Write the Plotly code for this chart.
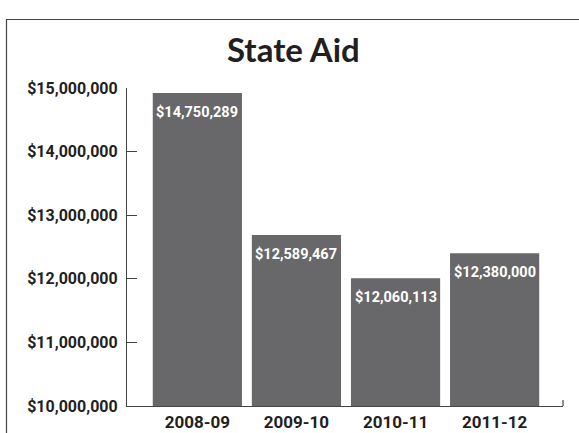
import plotly.graph_objects as go

seasons = ["2008-09", "2009-10", "2010-11", "2011-12"]
# bar heights as drawn in the reference
bar_heights = [14920000, 12690000, 12010000, 12400000]
# value labels printed on the bars
value_labels = ["$14,750,289", "$12,589,467", "$12,060,113", "$12,380,000"]
y_ticks = [10000000, 11000000, 12000000, 13000000, 14000000, 15000000]
y_tick_text = ["$10,000,000", "$11,000,000", "$12,000,000", "$13,000,000", "$14,000,000", "$15,000,000"]

COND = "Roboto, Liberation Sans, sans-serif"

W, H = 579, 433
L, R, T, B = 127, 16, 88, 27
pw, ph = W - L - R, H - T - B

def px(x):
    return (x - L) / pw

def py(y):
    return (H - B - y) / ph

fig = go.Figure()
fig.add_trace(go.Bar(
    x=list(range(len(seasons))), y=bar_heights,
    marker=dict(color="#686769", line=dict(width=0)),
    width=0.9, hoverinfo="skip",
))

annotations = []
for i, (h, lab) in enumerate(zip(bar_heights, value_labels)):
    annotations.append(dict(
        x=i, y=h, xref="x", yref="y", text=lab, showarrow=False,
        yanchor="top", xanchor="center", yshift=-9,
        font=dict(family=COND, size=14.5, color="white", weight="bold"),
    ))
annotations.append(dict(
    x=px(293), y=py(49), xref="paper", yref="paper", text="<b>State Aid</b>",
    showarrow=False, xanchor="center", yanchor="middle",
    font=dict(family="Lato, Open Sans, sans-serif", size=33, color="#231f20"),
))

shapes = [
    # outer frame (runs off the right and bottom edges)
    dict(type="rect", xref="paper", yref="paper", x0=px(6.5), x1=px(590),
         y0=py(450), y1=py(19.5), line=dict(color="#444", width=1.2)),
    # small end tick on x axis
    dict(type="line", xref="paper", yref="paper", x0=1, x1=1, y0=0, y1=py(400),
         line=dict(color="#444", width=1.2)),
]

fig.update_layout(
    width=W, height=H,
    margin=dict(l=L, r=R, t=T, b=B),
    paper_bgcolor="white", plot_bgcolor="white",
    showlegend=False, bargap=0.1,
    annotations=annotations, shapes=shapes,
    xaxis=dict(
        range=[-0.71, 3.69], tickmode="array", tickvals=list(range(len(seasons))),
        ticktext=seasons, showgrid=False, zeroline=False, showline=True,
        linecolor="#444", linewidth=1.2, ticks="", automargin=False,
        tickfont=dict(family=COND, size=17, color="#231f20", weight="bold"),
    ),
    yaxis=dict(
        range=[10000000, 15000000], tickmode="array", tickvals=y_ticks,
        ticktext=y_tick_text, showgrid=False, zeroline=False, showline=True,
        linecolor="#444", linewidth=1.2, ticks="inside", ticklen=10,
        tickcolor="#444", tickwidth=1.2, ticklabelstandoff=5, automargin=False,
        tickfont=dict(family=COND, size=16, color="#231f20", weight="bold"),
    ),
)

fig.write_html("out.html")
